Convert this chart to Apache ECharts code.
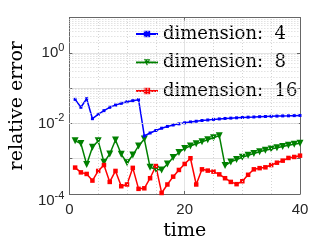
<!DOCTYPE html>
<html>
<head>
<meta charset="utf-8">
<script src="https://cdn.jsdelivr.net/npm/echarts@6/dist/echarts.min.js"></script>
<style>
html,body{margin:0;padding:0;background:#fff;}
#chart{width:332px;height:249px;}
</style>
</head>
<body>
<div id="chart"></div>
<script>
// ---- data ----
const times = [1,2,3,4,5,6,7,8,9,10,11,12,13,14,15,16,17,18,19,20,21,22,23,24,25,26,27,28,29,30,31,32,33,34,35,36,37,38,39,40];
const dim4 = [0.048,0.0286,0.050,0.0136,0.018,0.023,0.0286,0.033,0.037,0.041,0.044,0.047,0.0044,0.00535,0.0063,0.0073,0.0082,0.0090,0.0097,0.0104,0.0110,0.0115,0.0121,0.0125,0.0130,0.0134,0.0138,0.0141,0.0144,0.0147,0.0150,0.0152,0.0155,0.0157,0.0159,0.0161,0.0163,0.0164,0.0166,0.0168];
const dim8 = [0.0032,0.0027,0.00069,0.0021,0.0032,0.00079,0.00136,0.0034,0.00133,0.00077,0.00127,0.0023,0.0036,0.00057,0.0005,0.00048,0.00071,0.00108,0.0015,0.00195,0.0023,0.00264,0.0030,0.00345,0.0039,0.0045,0.00064,0.00081,0.00095,0.0011,0.00125,0.0014,0.00157,0.00173,0.00188,0.00205,0.00222,0.0024,0.00256,0.00273];
const dim16 = [0.00056,0.00041,0.00037,0.00024,0.00045,0.00066,0.00022,0.00045,0.000166,0.000186,0.00055,0.00014,0.000145,0.00028,0.00062,0.000107,0.000186,0.00031,0.00048,0.00071,0.00103,0.000186,0.0005,0.00046,0.00043,0.00036,0.00028,0.00022,0.00019,0.00023,0.00035,0.0005,0.00054,0.00057,0.00066,0.00077,0.00088,0.00105,0.00112,0.00122];
const seriesNames = ['dimension:  4','dimension:  8','dimension:  16'];
const xTickValues = [0,20,40];
const yTickExponents = [-4,-2,0];

// ---- helpers ----
const yMin = 1e-4, yMax = 10;
const minorY = [];
for (let k = -4; k <= 0; k++) {
  for (let m = 1; m <= 9; m++) {
    const v = m * Math.pow(10, k);
    if (m === 1 && yTickExponents.indexOf(k) >= 0) continue;
    if (v <= yMin) continue;
    minorY.push(v);
  }
}
const minorX = [5,10,15,25,30,35];
const expOf = v => Math.round(Math.log10(v));
const isMajor = v => yTickExponents.indexOf(expOf(v)) >= 0;

const sans = 'Liberation Sans';
const serif = 'DejaVu Serif';
const axisCol = '#666666';
const txtCol = '#262626';

const chart = echarts.init(document.getElementById('chart'), null, {renderer:'canvas'});
const option = {
  animation: false,
  backgroundColor: '#ffffff',
  grid: {left: 68, right: 32, top: 17.5, bottom: 55, containLabel: false},
  legend: {
    data: seriesNames,
    orient: 'vertical',
    left: 130, top: 19,
    itemWidth: 22, itemHeight: 8,
    itemGap: 8.5, itemTextGap: 1,
    textStyle: {fontFamily: serif, fontSize: 18, color: '#000', lineHeight: 20}
  },
  xAxis: [{
    type: 'value', min: 0, max: 40, interval: 20,
    name: 'time', nameLocation: 'middle', nameGap: 26,
    nameTextStyle: {fontFamily: serif, fontSize: 19, color: '#000'},
    axisLine: {show: true, onZero: false, lineStyle: {color: axisCol, width: 1}},
    axisTick: {show: true, inside: true, length: 3, lineStyle: {color: axisCol}},
    axisLabel: {fontFamily: sans, fontSize: 15, color: txtCol, margin: 8,
      formatter: v => xTickValues.indexOf(v) >= 0 ? String(v) : ''},
    splitLine: {show: true, lineStyle: {color: '#e3e3e3', width: 1}}
  }, {
    type: 'value', min: 0, max: 40, interval: 20, position: 'top',
    axisLine: {show: true, onZero: false, lineStyle: {color: axisCol, width: 1}},
    axisTick: {show: true, inside: true, length: 3, lineStyle: {color: axisCol}},
    axisLabel: {show: false}, splitLine: {show: false}
  }],
  yAxis: [{
    type: 'log', logBase: 10, min: yMin, max: yMax,
    name: 'relative error', nameLocation: 'middle', nameGap: 41,
    nameTextStyle: {fontFamily: serif, fontSize: 19, color: '#000'},
    axisLine: {show: true, onZero: false, lineStyle: {color: axisCol, width: 1}},
    axisTick: {show: true, inside: true, length: 3, lineStyle: {color: axisCol},
      interval: (i, v) => isMajor(Number(v))},
    axisLabel: {
      margin: 5, color: txtCol,
      interval: (i, v) => isMajor(Number(v)),
      formatter: v => {
        const e = expOf(v);
        if (yTickExponents.indexOf(e) < 0) return '';
        if (e === yTickExponents[0]) return '{g| }\n{b|10}{s|' + e + '}';
        return '{b|10}{s|' + e + '}';
      },
      rich: {
        b: {fontFamily: sans, fontSize: 15, color: txtCol},
        s: {fontFamily: sans, fontSize: 11, color: txtCol, padding: [0, 0, 10, 0]},
        g: {fontSize: 6, lineHeight: 14}
      }
    },
    splitLine: {show: true, interval: (i, v) => isMajor(Number(v)), lineStyle: {color: '#e3e3e3', width: 1}}
  }, {
    type: 'log', logBase: 10, min: yMin, max: yMax, position: 'right',
    axisLine: {show: true, onZero: false, lineStyle: {color: axisCol, width: 1}},
    axisTick: {show: true, inside: true, length: 3, lineStyle: {color: axisCol},
      interval: (i, v) => isMajor(Number(v))},
    axisLabel: {show: false}, splitLine: {show: false}
  }],
  series: [
    {
      name: 'grid-minor', type: 'line', data: [], silent: true, z: 0,
      markLine: {
        silent: true, symbol: 'none', animation: false,
        label: {show: false},
        lineStyle: {color: '#d4d4d4', type: [1, 2], width: 1},
        emphasis: {disabled: true},
        data: minorY.map(v => ({yAxis: v})).concat(minorX.map(v => ({xAxis: v})))
      }
    },
    {
      name: seriesNames[0], type: 'line', z: 4,
      data: times.map((t, i) => [t, dim4[i]]),
      color: '#0000ff', symbol: 'rect', symbolSize: 3, showSymbol: true,
      lineStyle: {width: 1.5, color: '#0000ff'}, itemStyle: {color: '#0000ff'}
    },
    {
      name: seriesNames[1], type: 'line', z: 3,
      data: times.map((t, i) => [t, dim8[i]]),
      color: '#008000', symbol: 'triangle', symbolRotate: 180, symbolSize: 7, showSymbol: true,
      lineStyle: {width: 1.5, color: '#008000'}, itemStyle: {color: '#008000'}
    },
    {
      name: seriesNames[2], type: 'line', z: 3,
      data: times.map((t, i) => [t, dim16[i]]),
      color: '#ff0000', symbol: 'rect', symbolSize: 4.5, showSymbol: true,
      lineStyle: {width: 1.5, color: '#ff0000'}, itemStyle: {color: '#ff0000'}
    }
  ]
};
chart.setOption(option);
</script>
</body>
</html>
